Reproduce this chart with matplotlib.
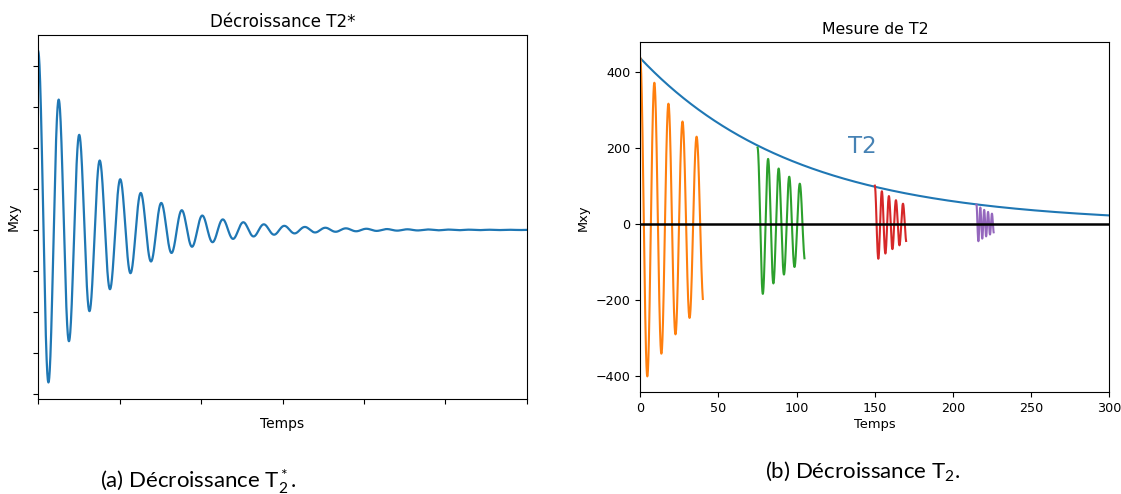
import numpy as np
import matplotlib
matplotlib.use("Agg")
import matplotlib.pyplot as plt

# ---- values ----
# (a) free induction decay: amplitude, decay time, oscillation period
fid_amp = 435.0
fid_tau = 40.0
fid_period = 12.6
fid_tmax = 300.0

# (b) T2 envelope and the four echoes
env_amp = 435.0
env_T2 = 100.0
env_tmax = 300.0
echo_start = [0, 75, 150, 215]
echo_end = [40, 105, 170, 226]
echo_amp = [435, 200, 100, 50]
echo_cycles = 4.44          # oscillations per echo
echo_decay = 1.4            # decay constant, in echo durations
echo_colors = ["C1", "C2", "C3", "C4"]

x_ticks_b = [0, 50, 100, 150, 200, 250, 300]
y_ticks_b = [-400, -200, 0, 200, 400]

plt.rcParams["mathtext.fontset"] = "custom"
plt.rcParams["mathtext.rm"] = "Lato"
plt.rcParams["mathtext.it"] = "Lato:italic"
plt.rcParams["mathtext.bf"] = "Lato:bold"

fig = plt.figure(figsize=(11.21, 4.94), dpi=100)

# ---- (a) ----
axa = fig.add_axes([0.0342, 0.1923, 0.4357, 0.7368])
t = np.linspace(0, fid_tmax, 3000)
axa.plot(t, fid_amp * np.exp(-t / fid_tau) * np.cos(2 * np.pi * t / fid_period),
         color="C0", lw=1.6)
axa.set_xlim(0, fid_tmax)
axa.set_xticks(x_ticks_b)
axa.set_xticklabels([])
axa.set_yticks([-400, -300, -200, -100, 0, 100, 200, 300, 400])
axa.set_yticklabels([])
axa.set_title("Décroissance T2*", fontsize=12)
axa.set_xlabel("Temps", fontsize=10, labelpad=6)
axa.set_ylabel("Mxy", fontsize=10, labelpad=6)

# ---- (b) ----
axb = fig.add_axes([0.5712, 0.2059, 0.4184, 0.7085])
te = np.linspace(0, env_tmax, 1000)
axb.plot(te, env_amp * np.exp(-te / env_T2), color="C0", lw=1.5)
for s, e, a, c in zip(echo_start, echo_end, echo_amp, echo_colors):
    u = np.linspace(0, 1, 600)
    axb.plot(s + u * (e - s),
             a * np.exp(-u / echo_decay) * np.cos(2 * np.pi * echo_cycles * u),
             color=c, lw=1.5)
axb.axhline(0, color="black", lw=1.8)
axb.set_xlim(0, env_tmax)
axb.set_xticks(x_ticks_b)
axb.set_yticks(y_ticks_b)
axb.tick_params(labelsize=9.2)
axb.set_title("Mesure de T2", fontsize=11.3)
axb.set_xlabel("Temps", fontsize=9.4, labelpad=2)
axb.set_ylabel("Mxy", fontsize=9.4)
axb.text(133, 202, "T2", color="steelblue", fontsize=16.5, va="center", ha="left")

# ---- captions ----
cap_font = ["Lato", "DejaVu Sans"]
fig.text(0.0892, 0.012, "(a) Décroissance T$_2^*$.", fontsize=16, family=cap_font,
         ha="left", va="baseline")
fig.text(0.6825, 0.032, "(b) Décroissance T$_2$.", fontsize=16, family=cap_font,
         ha="left", va="baseline")

fig.savefig("out.png", dpi=100)
